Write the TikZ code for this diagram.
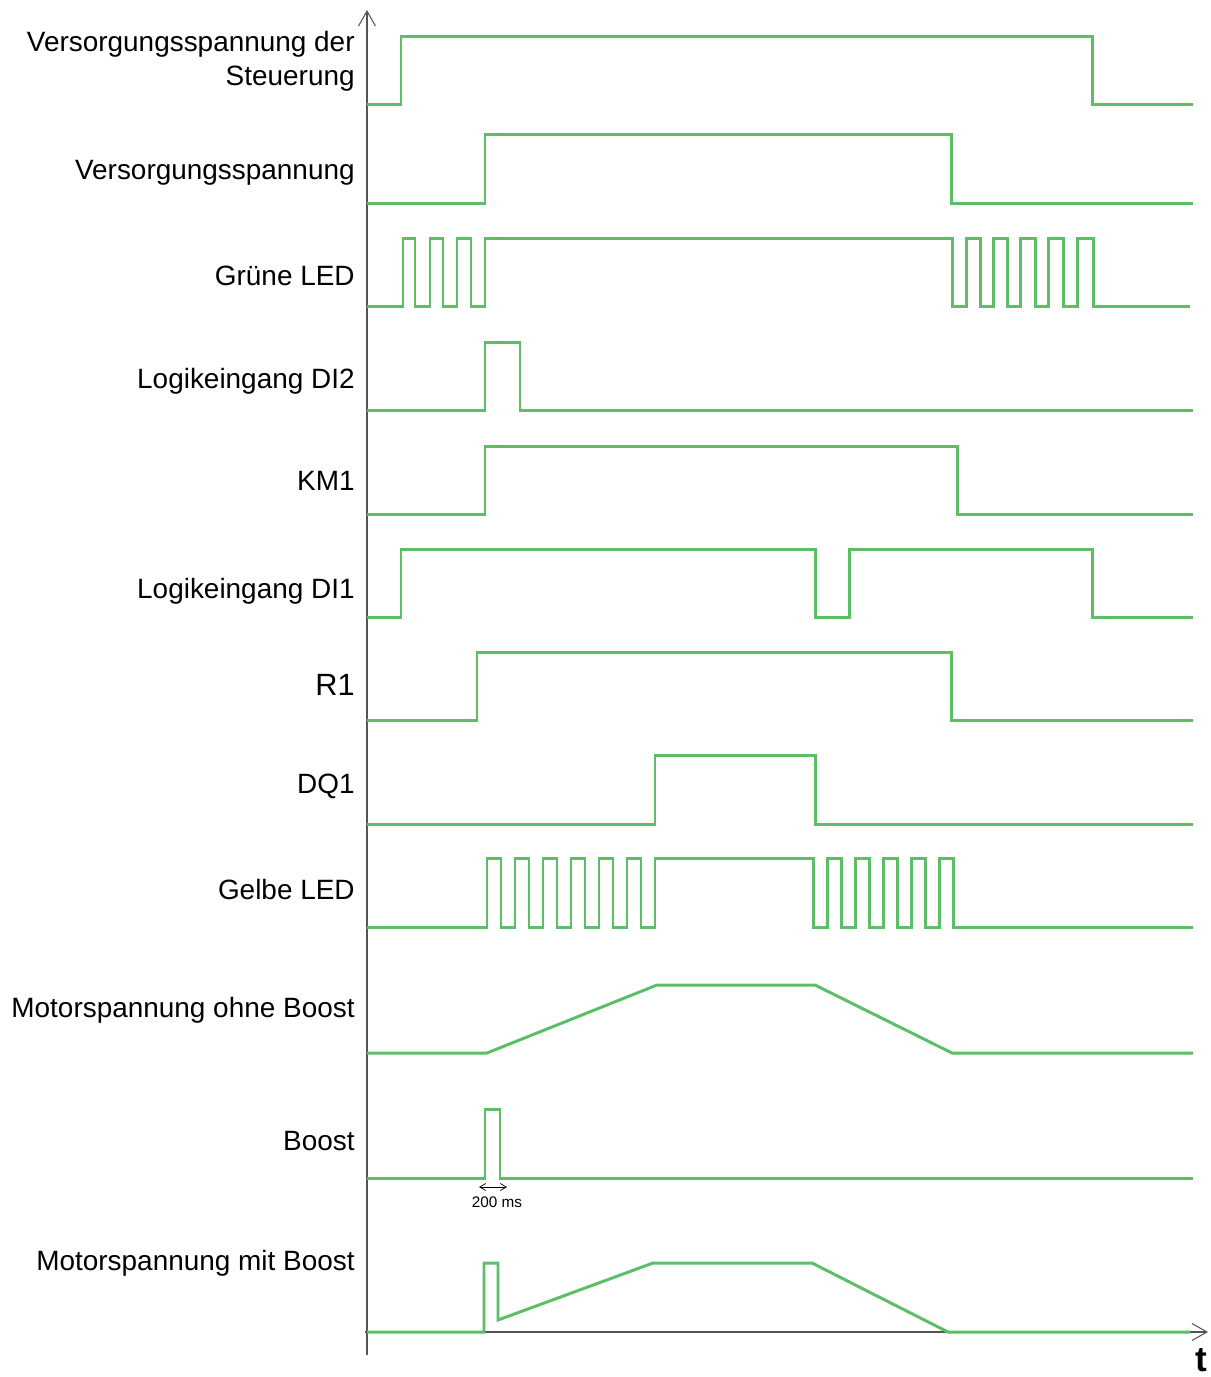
\documentclass[tikz,border=0pt]{standalone}
\usepackage{fontspec}
\setmainfont{Liberation Sans}
\usetikzlibrary{arrows.meta}
\definecolor{sig}{RGB}{92,190,102}
\definecolor{axisgray}{RGB}{85,85,85}
\tikzstyle{every node}=[anchor=east,inner sep=0pt,font=\fontsize{15.9}{19.3}\selectfont]
\tikzstyle{signal}=[draw=sig,line width=1.7pt]
\tikzstyle{axis}=[draw=axisgray,line width=0.6pt,-{Straight Barb[length=3mm,width=3.4mm]}]

\begin{document}
\begin{tikzpicture}[x=0.02cm,y=-0.02cm]
  \useasboundingbox (0,0) rectangle (1211,1377);
  % axes
  \draw[axis] (367,1355) -- (367,10);
  \draw[axis] (365,1332) -- (1208,1332);
  \node[anchor=center,font=\bfseries\fontsize{20}{23}\selectfont] (t) at (1201,1360) {t};
  % labels
  \node[align=right] (steuer) at (355,61) {Versorgungsspannung der\\Steuerung};
  \node (vers) at (355,173) {Versorgungsspannung};
  \node (gruen) at (355,276) {Grüne LED};
  \node (di2) at (355,381) {Logikeingang DI2};
  \node (km1) at (355,481) {KM1};
  \node (di1) at (355,591) {Logikeingang DI1};
  \node[font=\fontsize{17.5}{20}\selectfont] (r1) at (355,685) {R1};
  \node (dq1) at (355,786) {DQ1};
  \node (gelb) at (355,890) {Gelbe LED};
  \node (motor) at (355,1010) {Motorspannung ohne Boost};
  \node (boost) at (355,1141) {Boost};
  \node (motorboost) at (355,1263) {Motorspannung mit Boost};
  % signals
  \draw[signal] (367,104) -- (401,104) -- (401,36) -- (1092,36) -- (1092,104) -- (1193,104);
  \draw[signal] (367,203) -- (485,203) -- (485,134) -- (951,134) -- (951,203) -- (1193,203);
  \draw[signal] (367,306) -- (403,306) -- (403,238) -- (415,238) -- (415,306) -- (430,306)
    -- (430,238) -- (443,238) -- (443,306) -- (457,306) -- (457,238) -- (471,238)
    -- (471,306) -- (485,306) -- (485,238) -- (952,238) -- (952,306) -- (966,306)
    -- (966,238) -- (980,238) -- (980,306) -- (993,306) -- (993,238) -- (1007,238)
    -- (1007,306) -- (1020,306) -- (1020,238) -- (1035,238) -- (1035,306) -- (1048,306)
    -- (1048,238) -- (1063,238) -- (1063,306) -- (1077,306) -- (1077,238) -- (1093,238)
    -- (1093,306) -- (1190,306);
  \draw[signal] (367,410) -- (485,410) -- (485,342) -- (520,342) -- (520,410) -- (1193,410);
  \draw[signal] (367,514) -- (485,514) -- (485,446) -- (957,446) -- (957,514) -- (1193,514);
  \draw[signal] (367,617) -- (401,617) -- (401,549) -- (815,549) -- (815,617) -- (849,617)
    -- (849,549) -- (1092,549) -- (1092,617) -- (1193,617);
  \draw[signal] (367,720) -- (477,720) -- (477,652) -- (951,652) -- (951,720) -- (1193,720);
  \draw[signal] (367,824) -- (655,824) -- (655,755) -- (815,755) -- (815,824) -- (1193,824);
  \draw[signal] (367,927) -- (487,927) -- (487,858) -- (501,858) -- (501,927) -- (515,927)
    -- (515,858) -- (529,858) -- (529,927) -- (543,927) -- (543,858) -- (557,858)
    -- (557,927) -- (571,927) -- (571,858) -- (585,858) -- (585,927) -- (599,927)
    -- (599,858) -- (613,858) -- (613,927) -- (627,927) -- (627,858) -- (641,858)
    -- (641,927) -- (655,927) -- (655,858) -- (813,858) -- (813,927) -- (827,927)
    -- (827,858) -- (841,858) -- (841,927) -- (855,927) -- (855,858) -- (869,858)
    -- (869,927) -- (883,927) -- (883,858) -- (897,858) -- (897,927) -- (911,927)
    -- (911,858) -- (925,858) -- (925,927) -- (939,927) -- (939,858) -- (953,858)
    -- (953,927) -- (1193,927);
  \draw[signal] (367,1053) -- (487,1053) -- (657,985) -- (815,985) -- (952,1053) -- (1193,1053);
  \draw[signal] (367,1178) -- (485,1178) -- (485,1109) -- (500,1109) -- (500,1178) -- (1193,1178);
  \draw[signal] (367,1332) -- (484,1332) -- (484,1263) -- (498,1263) -- (498,1320) -- (653,1263)
    -- (812,1263) -- (948,1332) -- (1190,1332);
  % 200 ms
  \coordinate (msl) at (479,1187);
  \coordinate (msr) at (507,1187);
  \draw[{Straight Barb[length=1.2mm,width=1.4mm]}-{Straight Barb[length=1.2mm,width=1.4mm]},line width=0.4pt] (msl) -- (msr);
  \node[anchor=center,font=\fontsize{8.7}{10}\selectfont] (ms) at (497,1202) {200 ms};
\end{tikzpicture}
\end{document}
